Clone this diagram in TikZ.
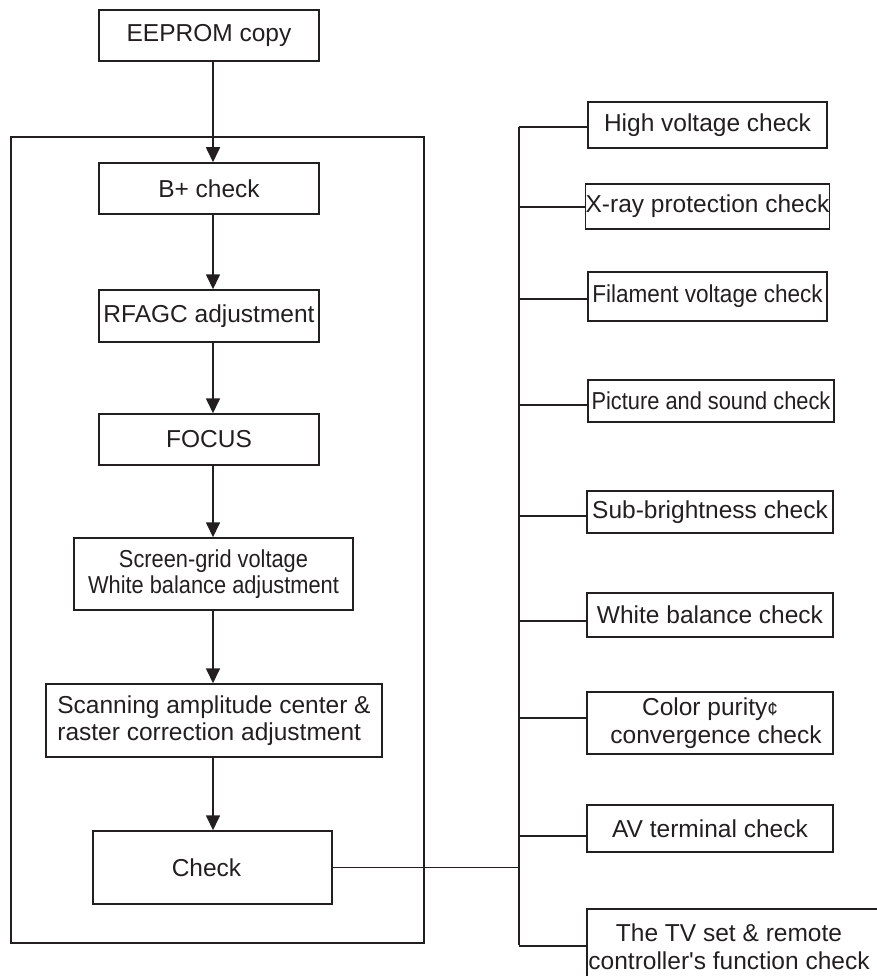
\documentclass[tikz,border=0pt]{standalone}
\usepackage{fontspec}
\setmainfont{Liberation Sans}
\newfontfamily\narrowfont[FakeStretch=0.89]{Liberation Sans}
\newfontfamily\semifont[FakeStretch=0.92]{Liberation Sans}
\usetikzlibrary{arrows.meta,calc}
\definecolor{ink}{HTML}{231F20}
\begin{document}
\begin{tikzpicture}[x=1pt,y=-1pt,
  box/.style={draw=ink,line width=1.5pt,inner sep=0pt,align=center,text=ink,
    font=\fontsize{24.5}{27.5}\selectfont},
  narrow/.style={font=\narrowfont\fontsize{24.5}{26.5}\selectfont},
  arr/.style={draw=ink,line width=1.7pt,-{Triangle[length=15pt,width=14pt]}},
  link/.style={draw=ink,line width=1.6pt}]
\useasboundingbox (0,0) rectangle (876,976);

% outer frame
\node[draw=ink,line width=1.5pt,minimum width=413pt,minimum height=806pt,inner sep=0pt] (frame) at (217.5,540) {};

% left column
\node[box,minimum width=220pt,minimum height=51pt] (eeprom) at (209,35.5) {EEPROM copy};
\node[box,minimum width=220pt,minimum height=51pt] (bplus) at (209,188.5) {B+ check};
\node[box,minimum width=220pt,minimum height=52pt] (rfagc) at (209,316) {RFAGC adjustment};
\node[box,minimum width=220pt,minimum height=51pt] (focus) at (209,439.5) {FOCUS};
\node[box,narrow,minimum width=279pt,minimum height=72pt] (screen) at (213.5,574) {Screen-grid voltage\\White balance adjustment};
\node[box,align=left,minimum width=336pt,minimum height=73pt] (scan) at (214,720.5) {Scanning amplitude center \&\\raster correction adjustment};
\node[box,minimum width=239pt,minimum height=73pt] (check) at (212.5,867.5) {Check\hspace{12pt}};

\coordinate (spine) at (213,0);
\foreach \a/\b in {eeprom/bplus,bplus/rfagc,rfagc/focus,focus/screen,screen/scan,scan/check}{
  \draw[arr] (\a.south -| spine) -- (\b.north -| spine);
}

% right column
\node[box,minimum width=239pt,minimum height=46pt] (hv) at (707.5,125) {High voltage check};
\node[box,minimum width=239pt,minimum height=45pt] (xray) at (707.5,206.5) {X-ray protection check};
\node[box,font=\semifont\fontsize{24.5}{27.5}\selectfont,minimum width=239pt,minimum height=49pt] (fil) at (707.5,296.5) {Filament voltage check};
\node[box,narrow,minimum width=246pt,minimum height=42pt] (pic) at (711,401) {Picture and sound check};
\node[box,minimum width=246pt,minimum height=42pt] (sub) at (710,512) {Sub-brightness check};
\node[box,minimum width=246pt,minimum height=44pt] (wb) at (710,615) {White balance check};
\node[box,minimum width=246pt,minimum height=62pt] (cp) at (710,723) {Color purity{\fontsize{19}{19}\selectfont ¢}\\\hspace{12pt}convergence check};
\node[box,minimum width=246pt,minimum height=47pt] (av) at (710,828.5) {AV terminal check};
\node[draw=ink,line width=1.5pt,inner sep=0pt,minimum width=310pt,minimum height=80pt,anchor=north west] (tvbox) at (586,908) {};
\node[align=center,inner sep=0pt,text=ink,font=\fontsize{24.5}{28}\selectfont] (tv) at (729,946.5) {The TV set \& remote\\controller\textquotesingle s function check};

% bus
\coordinate (bustop) at (519,127);
\coordinate (busbot) at (519,945);
\draw[link] (bustop) -- (busbot);
\foreach \n/\s in {hv/-2,xray/-0.5,fil/-2.5,pic/-4,sub/-4,wb/-6,cp/5,av/-7.5,tvbox/3}{
  \path ([yshift=\s pt]\n.west) coordinate (c\n);
  \draw[link] (c\n) -- (c\n -| bustop);
}
\draw[link] (check.east) -- (check.east -| bustop);
\end{tikzpicture}
\end{document}
